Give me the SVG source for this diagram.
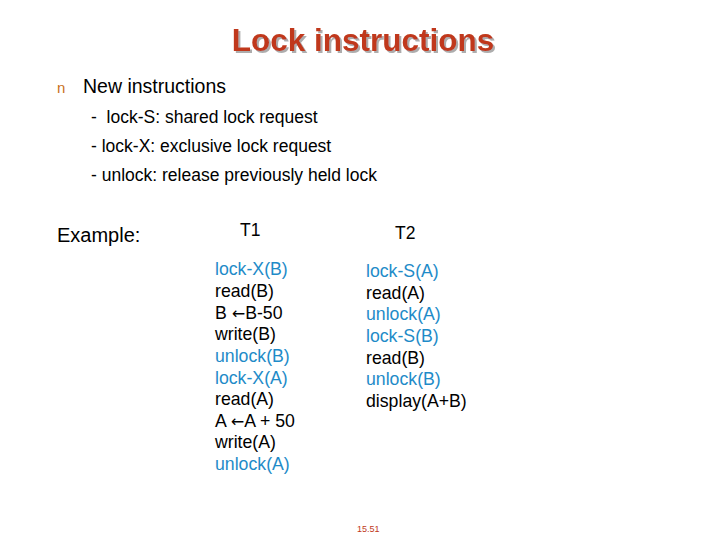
<svg xmlns="http://www.w3.org/2000/svg" width="720" height="540" viewBox="0 0 720 540">
<defs><filter id="sh" x="-5%" y="-20%" width="110%" height="150%"><feDropShadow dx="2" dy="2" stdDeviation="0.5" flood-color="#999" flood-opacity="0.8"/></filter></defs>
<style>
text{font-family:"Liberation Sans",Arial,sans-serif;fill:#000}
.b{fill:#1E8BC8}
.c{font-size:17.7px}
.a{font-family:"DejaVu Sans",sans-serif;font-size:16px}
</style>
<rect width="720" height="540" fill="#fff"/>
<text x="363" y="51" text-anchor="middle" font-size="31.5" font-weight="bold" style="fill:#C0391B" filter="url(#sh)">Lock instructions</text>
<text x="57" y="93" font-size="15" style="fill:#C8701E">n</text>
<text x="83" y="93" font-size="19.5">New instructions</text>
<text x="91" y="123" font-size="17.5" xml:space="preserve">-  lock-S: shared lock request</text>
<text x="91" y="152" font-size="17.5">- lock-X: exclusive lock request</text>
<text x="91" y="181" font-size="17.5">- unlock: release previously held lock</text>
<text x="57" y="242" font-size="20">Example:</text>
<text x="240" y="236" font-size="17.5">T1</text>
<text x="395" y="239" font-size="17.5">T2</text>
<g class="c">
<text x="215" y="275" class="b">lock-X(B)</text>
<text x="215" y="297">read(B)</text>
<text x="215" y="319">B <tspan class="a">←</tspan>B-50</text>
<text x="215" y="340">write(B)</text>
<text x="215" y="362" class="b">unlock(B)</text>
<text x="215" y="384" class="b">lock-X(A)</text>
<text x="215" y="405">read(A)</text>
<text x="215" y="427">A <tspan class="a">←</tspan>A + 50</text>
<text x="215" y="448">write(A)</text>
<text x="215" y="470" class="b">unlock(A)</text>
<text x="366" y="277" class="b">lock-S(A)</text>
<text x="366" y="299">read(A)</text>
<text x="366" y="320" class="b">unlock(A)</text>
<text x="366" y="342" class="b">lock-S(B)</text>
<text x="366" y="364">read(B)</text>
<text x="366" y="385" class="b">unlock(B)</text>
<text x="366" y="407">display(A+B)</text>
</g>
<text x="357" y="532" font-size="9" style="fill:#C0391B">15.51</text>
</svg>
